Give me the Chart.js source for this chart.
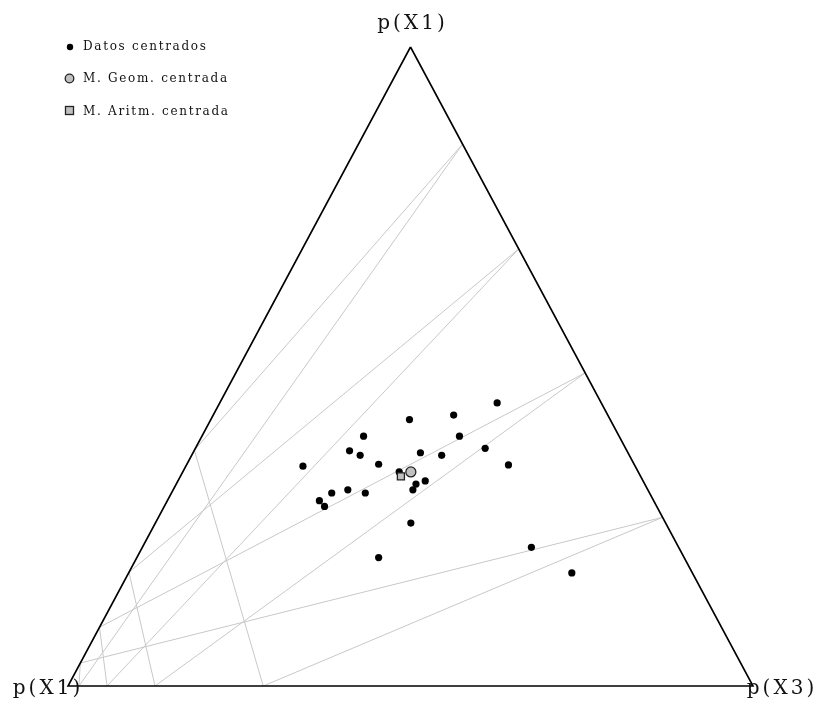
<!DOCTYPE html>
<html><head><meta charset="utf-8">
<script src="https://cdn.jsdelivr.net/npm/chart.js@4"></script>
<style>html,body{margin:0;padding:0;background:#fff;} canvas{display:block;}</style>
</head><body>
<canvas id="c" width="819" height="702"></canvas>
<script>
// Vertex labels: top, left, right
const vertexLabels = ['p(X1)', 'p(X1)', 'p(X3)'];
const legendLabels = ['Datos centrados', 'M. Geom. centrada', 'M. Aritm. centrada'];

// Centered compositions (percent): parts X1 (top), X2 (left), X3 (right)
const dataX1 = [44.3, 42.4, 41.7, 39.1, 39.1, 36.8, 36.1, 36.5, 36.1, 37.2, 34.4, 34.7, 34.6, 33.5, 32.1, 31.6, 30.7, 30.2, 30.7, 30.2, 29.0, 28.1, 25.5, 20.1, 21.7, 17.7];
const dataX2 = [15.2, 22.5, 29.3, 37.3, 23.3, 40.5, 39.3, 30.3, 27.4, 20.5, 48.5, 37.3, 18.4, 34.9, 31.8, 33.4, 34.3, 46.4, 43.8, 41.5, 48.8, 48.5, 37.2, 44.6, 21.5, 17.6];
const dataX3 = [40.5, 35.1, 29.0, 23.6, 37.6, 22.7, 24.6, 33.2, 36.5, 42.3, 17.1, 28.0, 47.0, 31.6, 36.1, 35.0, 35.0, 23.4, 25.5, 28.3, 22.2, 23.4, 37.3, 35.3, 56.8, 64.7];

const geoMean = [33.5, 33.2, 33.3];
const ariMean = [32.8, 35.0, 32.2];

// Grid line end points on the triangle edges
const gridRightX1 = [84.8, 68.4, 49.0, 26.4];   // on edge X2 = 0
const gridLeftX1 = [36.9, 17.8, 9.2, 3.6];      // on edge X3 = 0
const gridBottomX3 = [1.6, 5.7, 12.7, 28.5];    // on edge X1 = 0

function toXY(a, b, c) { const s = a + b + c; return { x: (c + a / 2) / s, y: a / s }; }

const datasets = [];
datasets.push({ label: legendLabels[2], data: [toXY(...ariMean)], pointStyle: 'rect', pointRadius: 5, backgroundColor: '#c0c0c0', borderColor: '#222', borderWidth: 1.3, order: 0 });
datasets.push({ label: legendLabels[1], data: [toXY(...geoMean)], pointStyle: 'circle', pointRadius: 5, backgroundColor: '#c0c0c0', borderColor: '#222', borderWidth: 1.3, order: 1 });
datasets.push({ label: legendLabels[0], data: dataX1.map((v, i) => toXY(v, dataX2[i], dataX3[i])), pointRadius: 3.6, backgroundColor: '#000', borderWidth: 0, order: 2 });

const R = gridRightX1.map(v => toXY(v, 0, 100 - v));
const L = gridLeftX1.map(v => toXY(v, 100 - v, 0));
const B = gridBottomX3.map(v => toXY(0, 100 - v, v));
const segs = [];
for (let i = 0; i < 4; i++) { segs.push([R[i], L[i]]); segs.push([R[i], B[i]]); segs.push([L[i], B[3 - i]]); }
segs.forEach(s => datasets.push({ data: s, showLine: true, borderColor: '#c8c8c8', borderWidth: 1, pointRadius: 0, order: 5 }));

datasets.push({ data: [toXY(100, 0, 0), toXY(0, 100, 0), toXY(0, 0, 100), toXY(100, 0, 0)], showLine: true, borderColor: '#000', borderWidth: 1.6, pointRadius: 0, order: 3 });

const labelPlugin = {
  id: 'labels',
  afterDraw(chart) {
    const ctx = chart.ctx;
    const xs = chart.scales.x, ys = chart.scales.y;
    ctx.save();
    ctx.fillStyle = '#111';
    ctx.font = '20px "DejaVu Serif"';
    if ('letterSpacing' in ctx) ctx.letterSpacing = '3px';
    ctx.textAlign = 'center';
    ctx.textBaseline = 'alphabetic';
    const top = toXY(100, 0, 0), left = toXY(0, 100, 0), right = toXY(0, 0, 100);
    ctx.fillText(vertexLabels[0], xs.getPixelForValue(top.x) + 2, ys.getPixelForValue(top.y) - 18);
    ctx.fillText(vertexLabels[1], xs.getPixelForValue(left.x) - 20, ys.getPixelForValue(left.y) + 8);
    ctx.fillText(vertexLabels[2], xs.getPixelForValue(right.x) + 29, ys.getPixelForValue(right.y) + 8);

    // legend
    ctx.font = '12px "DejaVu Serif"';
    if ('letterSpacing' in ctx) ctx.letterSpacing = '1.7px';
    ctx.textAlign = 'left';
    const rows = [50, 82, 115];
    ctx.fillText(legendLabels[0], 83, rows[0]);
    ctx.fillText(legendLabels[1], 83, rows[1]);
    ctx.fillText(legendLabels[2], 83, rows[2]);
    ctx.beginPath(); ctx.arc(70, 47, 3.2, 0, Math.PI * 2); ctx.fillStyle = '#000'; ctx.fill();
    ctx.beginPath(); ctx.arc(69.5, 78.5, 4.3, 0, Math.PI * 2); ctx.fillStyle = '#c0c0c0'; ctx.fill();
    ctx.lineWidth = 1.3; ctx.strokeStyle = '#222'; ctx.stroke();
    ctx.fillStyle = '#c0c0c0'; ctx.fillRect(65.5, 106.5, 8, 8); ctx.strokeRect(65.5, 106.5, 8, 8);
    ctx.restore();
  }
};

new Chart(document.getElementById('c'), {
  type: 'scatter',
  data: { datasets },
  options: {
    responsive: false,
    animation: false,
    devicePixelRatio: 1,
    layout: { padding: 0, autoPadding: false },
    clip: false,
    plugins: { legend: { display: false }, tooltip: { enabled: false } },
    scales: {
      x: { type: 'linear', display: false, min: -68 / 685, max: 751 / 685 },
      y: { type: 'linear', display: false, min: -16 / 639, max: 686 / 639 }
    }
  },
  plugins: [labelPlugin]
});
</script>
</body></html>
